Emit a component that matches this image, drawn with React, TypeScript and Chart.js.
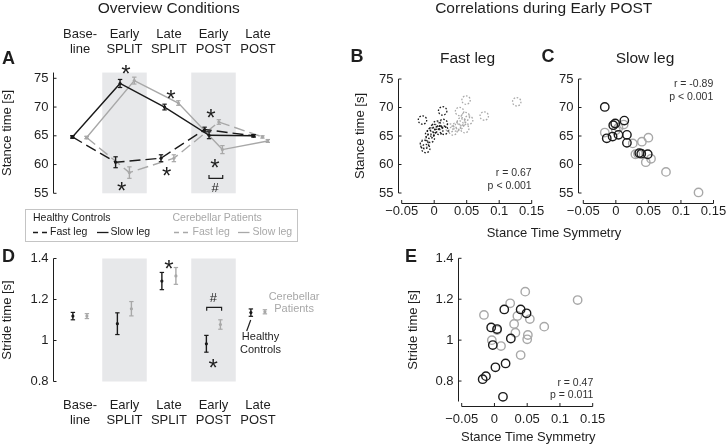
import React, { useEffect, useRef } from "react";
import { Chart, registerables } from "chart.js";

Chart.register(...registerables);

const W = 727;
const H = 446;
const FONT = '"Liberation Sans", Arial, Helvetica, sans-serif';
const INK = "#1e1e1e";
const BLACK = "#1a1a1a";
const GRAY = "#a8a8a8";
const BAND = "#e7e8ea";

// ---------------- data: overview conditions ----------------
const conditionLabels = [
  ["Base-", "line"],
  ["Early", "SPLIT"],
  ["Late", "SPLIT"],
  ["Early", "POST"],
  ["Late", "POST"],
];
const shadedConditions = [2, 4];

// Panel A: stance time [s]
const stanceHcSlow = [64.8, 74.1, 70.0, 65.1, 65.0];
const stanceHcSlowErr = [0.2, 0.7, 0.5, 0.6, 0.2];
const stanceHcFast = [64.8, 60.4, 61.1, 66.1, 65.0];
const stanceHcFastErr = [0.2, 0.95, 0.6, 0.4, 0.2];
const stanceCpSlow = [64.7, 74.6, 70.7, 62.6, 64.1];
const stanceCpSlowErr = [0.2, 0.6, 0.4, 0.7, 0.25];
const stanceCpFast = [64.7, 58.6, 61.1, 67.4, 64.8];
const stanceCpFastErr = [0.2, 1.0, 0.6, 0.4, 0.2];

// Panel D: stride time [s]
const strideHc = [1.119, 1.082, 1.29, 0.984, 1.136];
const strideHcErr = [0.018, 0.053, 0.042, 0.041, 0.018];
const strideCp = [1.119, 1.155, 1.315, 1.078, 1.14];
const strideCpErr = [0.012, 0.035, 0.041, 0.023, 0.01];

// tick values
const stanceTicks = [55, 60, 65, 70, 75];
const strideTicks = [0.8, 1, 1.2, 1.4];
const symTicks = [-0.05, 0, 0.05, 0.1, 0.15];

// ---------------- data: correlations (Early POST) ----------------
// B: fast leg stance time vs stance time symmetry
const fastHcSym = [-0.018, -0.015, -0.013, -0.007, -0.006, -0.004, 0.0, 0.004, 0.007, 0.013, 0.014, 0.015];
const fastHcStance = [67.8, 63.5, 62.8, 65.3, 64.6, 65.7, 66.3, 66.9, 66.0, 69.4, 67.2, 66.0];
const fastCpSym = [-0.015, 0.009, 0.024, 0.029, 0.034, 0.039, 0.039, 0.042, 0.047, 0.048, 0.049, 0.053, 0.077, 0.127];
const fastCpStance = [63.7, 66.9, 66.4, 65.9, 66.6, 69.3, 66.9, 67.5, 66.3, 68.4, 71.3, 67.8, 68.5, 71.0];

// C: slow leg stance time vs stance time symmetry
const slowHcSym = [-0.017, -0.014, -0.005, -0.004, -0.001, 0.004, 0.013, 0.017, 0.017, 0.036, 0.039, 0.049];
const slowHcStance = [70.1, 64.6, 64.9, 66.9, 67.2, 65.2, 67.7, 65.2, 63.8, 62.0, 61.9, 61.8];
const slowCpSym = [-0.017, 0.0, 0.004, 0.012, 0.026, 0.03, 0.034, 0.04, 0.046, 0.05, 0.054, 0.077, 0.127];
const slowCpStance = [65.6, 66.0, 66.5, 67.0, 63.7, 61.8, 61.9, 64.0, 60.4, 64.7, 61.0, 58.7, 55.1];

// E: stride time vs stance time symmetry
const strideHcSym = [-0.018, -0.013, -0.005, -0.0025, 0.0015, 0.004, 0.013, 0.015, 0.017, 0.025, 0.04, 0.049];
const strideHcVal = [0.809, 0.824, 1.062, 0.976, 0.867, 1.054, 0.723, 1.15, 0.886, 1.008, 1.15, 1.131];
const strideCpSym = [-0.016, -0.004, 0.004, 0.01, 0.024, 0.03, 0.032, 0.035, 0.04, 0.047, 0.05, 0.051, 0.054, 0.076, 0.127];
const strideCpVal = [1.123, 1.0, 1.049, 0.971, 1.18, 1.079, 1.036, 1.118, 0.927, 1.237, 1.004, 1.025, 1.103, 1.066, 1.196];

// ---------------- layout (not data) ----------------
const DODGE = {
  hcSlow: [-0.17, -0.1, -0.1, -0.1, -0.1],
  hcFast: [-0.17, -0.2, -0.18, -0.2, -0.1],
  cpSlow: [0.15, 0.22, 0.21, 0.2, 0.22],
  cpFast: [0.15, 0.11, 0.11, 0.12, 0.1],
  strideHc: -0.16,
  strideCp: 0.155,
};

const A_AREA = { left: 53.3, right: 284.7, top: 72.55, bottom: 193.3 };
const D_AREA = { left: 53.3, right: 284.7, top: 258.5, bottom: 381.5 };
const B_AREA = { left: 401.7, right: 531.7, top: 79, bottom: 193 };
const C_AREA = { left: 583.3, right: 713.5, top: 79, bottom: 193 };
const E_AREA = { left: 461.7, right: 592.7, top: 258.3, bottom: 401.5 };

// ---------------- helpers ----------------
const fmtTick = (v: number) => (v < 0 ? "\u2212" + String(Math.abs(v)) : String(v));

function label(ctx: any, s: string, x: number, y: number, o: any = {}) {
  ctx.save();
  ctx.font = `${o.weight ?? "normal"} ${o.size ?? 13}px ${FONT}`;
  ctx.fillStyle = o.color ?? INK;
  ctx.textAlign = o.align ?? "center";
  ctx.textBaseline = "middle";
  if (o.rot) {
    ctx.translate(x, y);
    ctx.rotate(-Math.PI / 2);
    ctx.fillText(s, 0, 0);
  } else {
    ctx.fillText(s, x, y);
  }
  ctx.restore();
}

function star(ctx: any, x: number, y: number, size = 24) {
  ctx.save();
  ctx.font = `${size}px ${FONT}`;
  ctx.fillStyle = INK;
  ctx.textAlign = "center";
  ctx.textBaseline = "alphabetic";
  ctx.fillText("*", x, y + 0.58 * size);
  ctx.restore();
}

function line(ctx: any, pts: number[][], color = INK, width = 1, dash: number[] = []) {
  ctx.save();
  ctx.strokeStyle = color;
  ctx.lineWidth = width;
  ctx.setLineDash(dash);
  ctx.beginPath();
  pts.forEach((p, i) => (i ? ctx.lineTo(p[0], p[1]) : ctx.moveTo(p[0], p[1])));
  ctx.stroke();
  ctx.restore();
}

function baseOptions(area: any, xr: number[], yr: number[]) {
  return {
    responsive: false,
    maintainAspectRatio: false,
    animation: false,
    devicePixelRatio: 1,
    events: [],
    layout: {
      padding: { left: area.left, right: W - area.right, top: area.top, bottom: H - area.bottom },
    },
    plugins: { legend: { display: false }, tooltip: { enabled: false }, title: { display: false } },
    scales: {
      x: { type: "linear", display: false, min: xr[0], max: xr[1] },
      y: { type: "linear", display: false, min: yr[0], max: yr[1] },
    },
  };
}

const errorBarPlugin = {
  id: "errorBars",
  afterDatasetsDraw(chart: any) {
    const { ctx } = chart;
    const ys = chart.scales.y;
    for (let i = chart.data.datasets.length - 1; i >= 0; i--) {
      const ds = chart.data.datasets[i];
      if (!ds.errors) continue;
      const meta = chart.getDatasetMeta(i);
      meta.data.forEach((el: any, j: number) => {
        const v = ds.data[j].y;
        const e = ds.errors[j];
        const t = ys.getPixelForValue(v + e);
        const b = ys.getPixelForValue(v - e);
        const x = el.x;
        line(ctx, [[x, t], [x, b]], ds.borderColor, 1.4);
        line(ctx, [[x - 2.2, t], [x + 2.2, t]], ds.borderColor, 1.2);
        line(ctx, [[x - 2.2, b], [x + 2.2, b]], ds.borderColor, 1.2);
      });
    }
  },
};

const dottedPointsPlugin = {
  id: "dottedPoints",
  beforeDatasetDraw(chart: any, args: any) {
    if (chart.data.datasets[args.index].dotted) chart.ctx.setLineDash([1.6, 1.6]);
  },
  afterDatasetDraw(chart: any) {
    chart.ctx.setLineDash([]);
  },
};

function yAxis(chart: any, ticks: number[], offset: number) {
  const { ctx, chartArea: ca } = chart;
  const ys = chart.scales.y;
  const ax = Math.round(ca.left - offset) + 0.5;
  line(ctx, [[ax, ca.top], [ax, ca.bottom]], INK, 1);
  for (const v of ticks) {
    const py = ys.getPixelForValue(v);
    line(ctx, [[ax, py], [ax + 3, py]], INK, 1);
    label(ctx, fmtTick(v), ax - 5, py, { align: "right" });
  }
}

function xAxis(chart: any, ticks: number[], axisY: number, labelGap: number) {
  const { ctx, chartArea: ca } = chart;
  const xs = chart.scales.x;
  const ay = Math.round(axisY) + 0.5;
  line(ctx, [[ca.left, ay], [ca.right, ay]], INK, 1);
  for (const v of ticks) {
    const px = xs.getPixelForValue(v);
    line(ctx, [[px, ay], [px, ay - 3.5]], INK, 1);
    label(ctx, fmtTick(v), px, ay + labelGap);
  }
}

function bandsAndCategories(chart: any, labelY: number[]) {
  const { ctx } = chart;
  const xs = chart.scales.x;
  conditionLabels.forEach((lines, i) => {
    const px = xs.getPixelForValue(i + 1);
    lines.forEach((s, k) => label(ctx, s, px, labelY[k], { size: 13 }));
  });
}

const bandPlugin = {
  id: "bands",
  beforeDatasetsDraw(chart: any) {
    const { ctx, chartArea: ca } = chart;
    const xs = chart.scales.x;
    ctx.save();
    ctx.fillStyle = BAND;
    for (const c of shadedConditions) {
      const l = xs.getPixelForValue(c - 0.5);
      const r = xs.getPixelForValue(c + 0.5);
      ctx.fillRect(l, ca.top, r - l, ca.bottom - ca.top);
    }
    ctx.restore();
  },
};

// ---------------- chart builders ----------------
function seriesPoints(vals: number[], dodge: number[] | number) {
  return vals.map((y, i) => ({ x: i + 1 + (Array.isArray(dodge) ? dodge[i] : dodge), y }));
}

function buildA(canvas: HTMLCanvasElement) {
  const opts: any = baseOptions(A_AREA, [0.4, 5.6], [55, 76]);
  const mk = (vals: number[], errs: number[], dodge: number[], color: string, dashed: boolean) => ({
    type: "line",
    data: seriesPoints(vals, dodge),
    errors: errs,
    borderColor: color,
    backgroundColor: color,
    borderWidth: 1.4,
    borderDash: dashed ? [11, 5] : [],
    pointRadius: 1.6,
    pointBackgroundColor: color,
    pointBorderWidth: 0,
    tension: 0,
    clip: false,
  });
  return new Chart(canvas, {
    type: "line",
    data: {
      datasets: [
        mk(stanceHcSlow, stanceHcSlowErr, DODGE.hcSlow, BLACK, false),
        mk(stanceHcFast, stanceHcFastErr, DODGE.hcFast, BLACK, true),
        mk(stanceCpSlow, stanceCpSlowErr, DODGE.cpSlow, GRAY, false),
        mk(stanceCpFast, stanceCpFastErr, DODGE.cpFast, GRAY, true),
      ] as any,
    },
    options: opts,
    plugins: [
      bandPlugin,
      errorBarPlugin,
      {
        id: "decoA",
        afterDraw(chart: any) {
          const { ctx } = chart;
          const xs = chart.scales.x;
          const ys = chart.scales.y;
          const P = (x: number, y: number) => [xs.getPixelForValue(x), ys.getPixelForValue(y)];
          yAxis(chart, stanceTicks, 0);
          bandsAndCategories(chart, [34, 49.5]);
          label(ctx, "Overview Conditions", 168.7, 9, { size: 15.5 });
          label(ctx, "A", 8.5, 59.5, { size: 18, weight: "bold" });
          label(ctx, "Stance time [s]", 7.5, (chart.chartArea.top + chart.chartArea.bottom) / 2, { rot: true });
          // significance marks
          const stars = [
            [2.034, 76.74],
            [3.045, 72.39],
            [3.944, 69.19],
            [1.937, 56.44],
            [2.948, 59.05],
            [4.034, 60.5],
          ];
          stars.forEach(([x, y]) => {
            const [px, py] = P(x, y);
            star(ctx, px, py);
          });
          const [bl, bb] = P(3.899, 57.61);
          const [br, bt] = P(4.207, 58.18);
          line(ctx, [[bl, bt], [bl, bb], [br, bb], [br, bt]], INK, 1.2);
          const [hx, hy] = P(4.034, 55.92);
          label(ctx, "#", hx, hy, { size: 13 });
          // legend
          ctx.save();
          ctx.strokeStyle = "#c4c4c4";
          ctx.lineWidth = 1;
          ctx.strokeRect(25.5, 209.5, 272, 32);
          ctx.restore();
          label(ctx, "Healthy Controls", 33, 218.5, { size: 10.5, align: "left", color: BLACK });
          label(ctx, "Cerebellar Patients", 172.5, 218.5, { size: 10.5, align: "left", color: GRAY });
          const ly = 232.5;
          line(ctx, [[33, ly], [48, ly]], BLACK, 1.3, [5, 4]);
          label(ctx, "Fast leg", 50, ly, { size: 10.5, align: "left", color: BLACK });
          line(ctx, [[97, ly], [108.5, ly]], BLACK, 1.3);
          label(ctx, "Slow leg", 110.5, ly, { size: 10.5, align: "left", color: BLACK });
          line(ctx, [[174, ly], [190, ly]], GRAY, 1.3, [5, 4]);
          label(ctx, "Fast leg", 192.5, ly, { size: 10.5, align: "left", color: GRAY });
          line(ctx, [[238, ly], [249.5, ly]], GRAY, 1.3);
          label(ctx, "Slow leg", 252.5, ly, { size: 10.5, align: "left", color: GRAY });
        },
      },
    ],
  } as any);
}

function buildD(canvas: HTMLCanvasElement) {
  const opts: any = baseOptions(D_AREA, [0.4, 5.6], [0.8, 1.4]);
  const mk = (vals: number[], errs: number[], dodge: number, color: string) => ({
    data: seriesPoints(vals, dodge),
    errors: errs,
    borderColor: color,
    backgroundColor: color,
    showLine: false,
    pointRadius: 1.6,
    pointBackgroundColor: color,
    pointBorderWidth: 0,
    clip: false,
  });
  return new Chart(canvas, {
    type: "scatter",
    data: {
      datasets: [mk(strideHc, strideHcErr, DODGE.strideHc, BLACK), mk(strideCp, strideCpErr, DODGE.strideCp, GRAY)] as any,
    },
    options: opts,
    plugins: [
      bandPlugin,
      errorBarPlugin,
      {
        id: "decoD",
        afterDraw(chart: any) {
          const { ctx } = chart;
          const xs = chart.scales.x;
          const ys = chart.scales.y;
          const P = (x: number, y: number) => [xs.getPixelForValue(x), ys.getPixelForValue(y)];
          yAxis(chart, strideTicks, 0);
          bandsAndCategories(chart, [405, 420.5]);
          label(ctx, "D", 8.5, 257.5, { size: 18, weight: "bold" });
          label(ctx, "Stride time [s]", 7.5, (chart.chartArea.top + chart.chartArea.bottom) / 2, { rot: true });
          let [sx, sy] = P(3.0, 1.3766);
          star(ctx, sx, sy);
          [sx, sy] = P(3.995, 0.8966);
          star(ctx, sx, sy);
          const [bl, bt] = P(3.847, 1.162);
          const [br, bb] = P(4.182, 1.145);
          line(ctx, [[bl, bb], [bl, bt], [br, bt], [br, bb]], INK, 1.2);
          const [hx, hy] = P(3.995, 1.2059);
          label(ctx, "#", hx, hy, { size: 13 });
          const [c1x, c1y] = P(5.81, 1.212);
          const [c2x, c2y] = P(5.81, 1.154);
          label(ctx, "Cerebellar", c1x, c1y, { size: 11, color: GRAY });
          label(ctx, "Patients", c2x, c2y, { size: 11, color: GRAY });
          const [h1x, h1y] = P(5.056, 1.0156);
          const [h2x, h2y] = P(5.056, 0.954);
          label(ctx, "Healthy", h1x, h1y, { size: 11 });
          label(ctx, "Controls", h2x, h2y, { size: 11 });
          const [p1x, p1y] = P(4.836, 1.1);
          const [p2x, p2y] = P(4.746, 1.0463);
          line(ctx, [[p1x, p1y], [p2x, p2y]], INK, 1.2);
        },
      },
    ],
  } as any);
}

function scatterSet(xs: number[], ys: number[], color: string, dotted: boolean) {
  return {
    data: xs.map((x, i) => ({ x, y: ys[i] })),
    showLine: false,
    borderColor: color,
    backgroundColor: "rgba(0,0,0,0)",
    pointRadius: 4.2,
    pointBorderWidth: dotted ? 1.3 : 1.4,
    pointBorderColor: color,
    pointBackgroundColor: "rgba(0,0,0,0)",
    dotted,
    clip: false,
  };
}

function buildScatter(canvas: HTMLCanvasElement, cfg: any) {
  const opts: any = baseOptions(cfg.area, [-0.05, 0.15], cfg.yr);
  return new Chart(canvas, {
    type: "scatter",
    data: { datasets: cfg.datasets },
    options: opts,
    plugins: [
      dottedPointsPlugin,
      {
        id: "decoScatter",
        afterDraw(chart: any) {
          const { ctx, chartArea: ca } = chart;
          yAxis(chart, cfg.yTicks, cfg.yOffset);
          xAxis(chart, symTicks, cfg.xAxisY, cfg.xLabelGap);
          cfg.texts.forEach((t: any) => label(ctx, t[0], t[1], t[2], t[3] || {}));
          if (cfg.yLabel) label(ctx, cfg.yLabel[0], cfg.yLabel[1], (ca.top + ca.bottom) / 2, { rot: true });
        },
      },
    ],
  } as any);
}

export default function App() {
  const rA = useRef<HTMLCanvasElement>(null);
  const rD = useRef<HTMLCanvasElement>(null);
  const rB = useRef<HTMLCanvasElement>(null);
  const rC = useRef<HTMLCanvasElement>(null);
  const rE = useRef<HTMLCanvasElement>(null);

  useEffect(() => {
    const charts: Chart[] = [];
    charts.push(buildA(rA.current!));
    charts.push(buildD(rD.current!));
    charts.push(
      buildScatter(rB.current!, {
        area: B_AREA,
        yr: [55, 75],
        yTicks: stanceTicks,
        yOffset: 4,
        xAxisY: 202.5,
        xLabelGap: 7.5,
        datasets: [
          scatterSet(fastHcSym, fastHcStance, BLACK, true),
          scatterSet(fastCpSym, fastCpStance, GRAY, true),
        ],
        yLabel: ["Stance time [s]", 360],
        texts: [
          ["Correlations during Early POST", 543.7, 9, { size: 15.5 }],
          ["B", 357, 57, { size: 18, weight: "bold" }],
          ["Fast leg", 467.5, 58.3, { size: 15.5 }],
          ["r = 0.67", 531.7, 173.3, { size: 10.5, align: "right", color: "#333" }],
          ["p < 0.001", 531.7, 185.7, { size: 10.5, align: "right", color: "#333" }],
        ],
      })
    );
    charts.push(
      buildScatter(rC.current!, {
        area: C_AREA,
        yr: [55, 75],
        yTicks: stanceTicks,
        yOffset: 5.5,
        xAxisY: 202.5,
        xLabelGap: 7.5,
        datasets: [
          scatterSet(slowHcSym, slowHcStance, BLACK, false),
          scatterSet(slowCpSym, slowCpStance, GRAY, false),
        ],
        texts: [
          ["C", 548, 57, { size: 18, weight: "bold" }],
          ["Slow leg", 645, 58.3, { size: 15.5 }],
          ["r = -0.89", 713.3, 84, { size: 10.5, align: "right", color: "#333" }],
          ["p < 0.001", 713.3, 97, { size: 10.5, align: "right", color: "#333" }],
          ["Stance Time Symmetry", 554, 233.3, { size: 13 }],
        ],
      })
    );
    charts.push(
      buildScatter(rE.current!, {
        area: E_AREA,
        yr: [0.7, 1.4],
        yTicks: strideTicks,
        yOffset: 4,
        xAxisY: 406,
        xLabelGap: 13,
        datasets: [
          scatterSet(strideHcSym, strideHcVal, BLACK, false),
          scatterSet(strideCpSym, strideCpVal, GRAY, false),
        ],
        yLabel: ["Stride time [s]", 413.3],
        texts: [
          ["E", 411, 257.3, { size: 18, weight: "bold" }],
          ["r = 0.47", 593.3, 383.3, { size: 10.5, align: "right", color: "#333" }],
          ["p = 0.011", 593.3, 395, { size: 10.5, align: "right", color: "#333" }],
          ["Stance Time Symmetry", 528.3, 437.3, { size: 13 }],
        ],
      })
    );
    return () => charts.forEach((c) => c.destroy());
  }, []);

  const cs: any = { position: "absolute", left: 0, top: 0, width: W, height: H };
  return (
    <div style={{ position: "absolute", left: 0, top: 0, width: W, height: H, background: "#fff", overflow: "hidden" }}>
      <canvas ref={rA} width={W} height={H} style={cs} />
      <canvas ref={rD} width={W} height={H} style={cs} />
      <canvas ref={rB} width={W} height={H} style={cs} />
      <canvas ref={rC} width={W} height={H} style={cs} />
      <canvas ref={rE} width={W} height={H} style={cs} />
    </div>
  );
}
